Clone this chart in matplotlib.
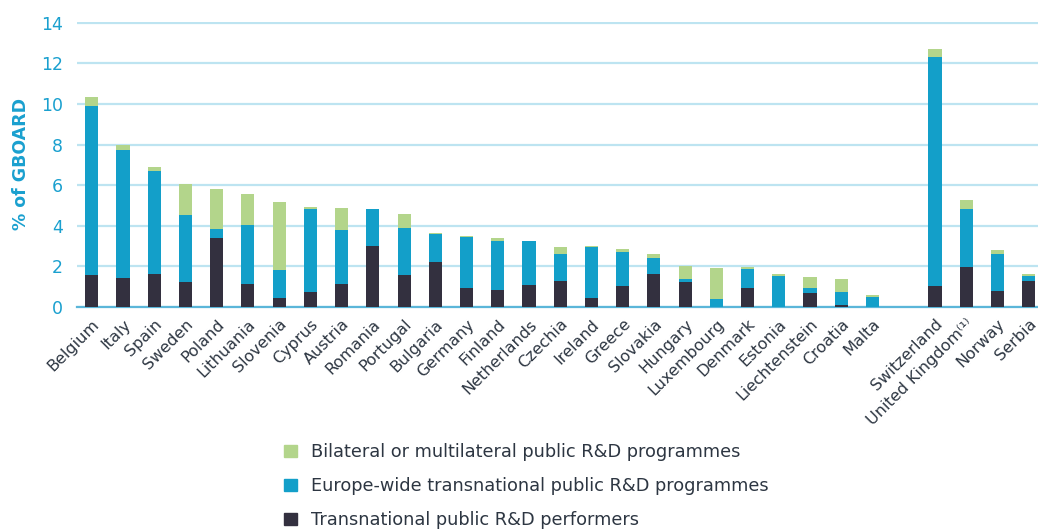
import numpy as np
import matplotlib
matplotlib.use("Agg")
import matplotlib.pyplot as plt
from matplotlib.patches import Patch

# data (% of GBOARD); "" is the empty slot before the non-EU group
countries = ["Belgium", "Italy", "Spain", "Sweden", "Poland", "Lithuania", "Slovenia",
             "Cyprus", "Austria", "Romania", "Portugal", "Bulgaria", "Germany", "Finland",
             "Netherlands", "Czechia", "Ireland", "Greece", "Slovakia", "Hungary",
             "Luxembourg", "Denmark", "Estonia", "Liechtenstein", "Croatia", "Malta", "",
             "Switzerland", "United Kingdom⁽¹⁾", "Norway", "Serbia"]

performers = [1.56, 1.44, 1.62, 1.21, 3.37, 1.11, 0.43, 0.74, 1.11, 3.01, 1.56, 2.19, 0.93,
              0.82, 1.07, 1.28, 0.43, 1.05, 1.62, 1.21, 0.00, 0.93, 0.00, 0.69, 0.08, 0.00,
              0.00, 1.05, 1.96, 0.77, 1.28]
europe_wide = [8.36, 6.27, 5.07, 3.32, 0.48, 2.92, 1.40, 4.09, 2.69, 1.79, 2.35, 1.38, 2.52,
               2.41, 2.17, 1.31, 2.52, 1.67, 0.80, 0.17, 0.39, 0.95, 1.54, 0.24, 0.66, 0.51,
               0.00, 11.28, 2.87, 1.82, 0.24]
bilateral = [0.41, 0.26, 0.19, 1.54, 1.98, 1.52, 3.36, 0.07, 1.05, 0.02, 0.66, 0.06, 0.02,
             0.17, 0.00, 0.36, 0.05, 0.11, 0.18, 0.63, 1.53, 0.07, 0.08, 0.53, 0.64, 0.08,
             0.00, 0.38, 0.43, 0.19, 0.10]

c_green = "#b3d58b"
c_blue = "#139fc9"
c_dark = "#33303f"
c_axis = "#1aa0cf"
c_text = "#2d3642"

plt.rcParams["font.family"] = ["DejaVu Sans"]

fig = plt.figure(figsize=(10.38, 5.30), dpi=100)
ax = fig.add_axes([0.074, 0.421, 0.926, 0.538])

x = np.arange(len(countries))
w = 0.42
p = np.array(performers)
e = np.array(europe_wide)
b = np.array(bilateral)
ax.bar(x, p, w, color=c_dark, zorder=3)
ax.bar(x, e, w, bottom=p, color=c_blue, zorder=3)
ax.bar(x, b, w, bottom=p + e, color=c_green, zorder=3)

ax.set_xlim(-0.48, len(countries) - 0.7)
ax.set_ylim(0, 14.05)
ax.set_yticks(range(0, 15, 2))
ax.yaxis.grid(True, color="#bde4f1", linewidth=1.6, zorder=0)
ax.set_axisbelow(True)
for s in ["top", "right", "left"]:
    ax.spines[s].set_visible(False)
ax.spines["bottom"].set_color("#5bb6d9")
ax.spines["bottom"].set_linewidth(1.6)
ax.tick_params(axis="both", length=0)
ax.tick_params(axis="y", labelcolor=c_axis, labelsize=12.5, pad=10)

ax.set_xticks(x)
ax.set_xticklabels(countries, rotation=45, ha="right", rotation_mode="anchor",
                   fontsize=11.5, color=c_text)
ax.tick_params(axis="x", pad=7)
ax.set_ylabel("% of GBOARD", color=c_axis, fontsize=12.5, fontweight="bold", labelpad=8)

# legend below the plot, stacked rows
handles = [Patch(color=c_green), Patch(color=c_blue), Patch(color=c_dark)]
labels = ["Bilateral or multilateral public R&D programmes",
          "Europe-wide transnational public R&D programmes",
          "Transnational public R&D performers"]
fig.legend(handles, labels, loc="upper left", bbox_to_anchor=(0.267, 1 - 436 / 530),
           frameon=False, fontsize=12.8, labelcolor=c_text, handlelength=0.7,
           handleheight=0.7, handletextpad=0.8, labelspacing=0.9, borderaxespad=0)

fig.savefig("out.png", dpi=100)
